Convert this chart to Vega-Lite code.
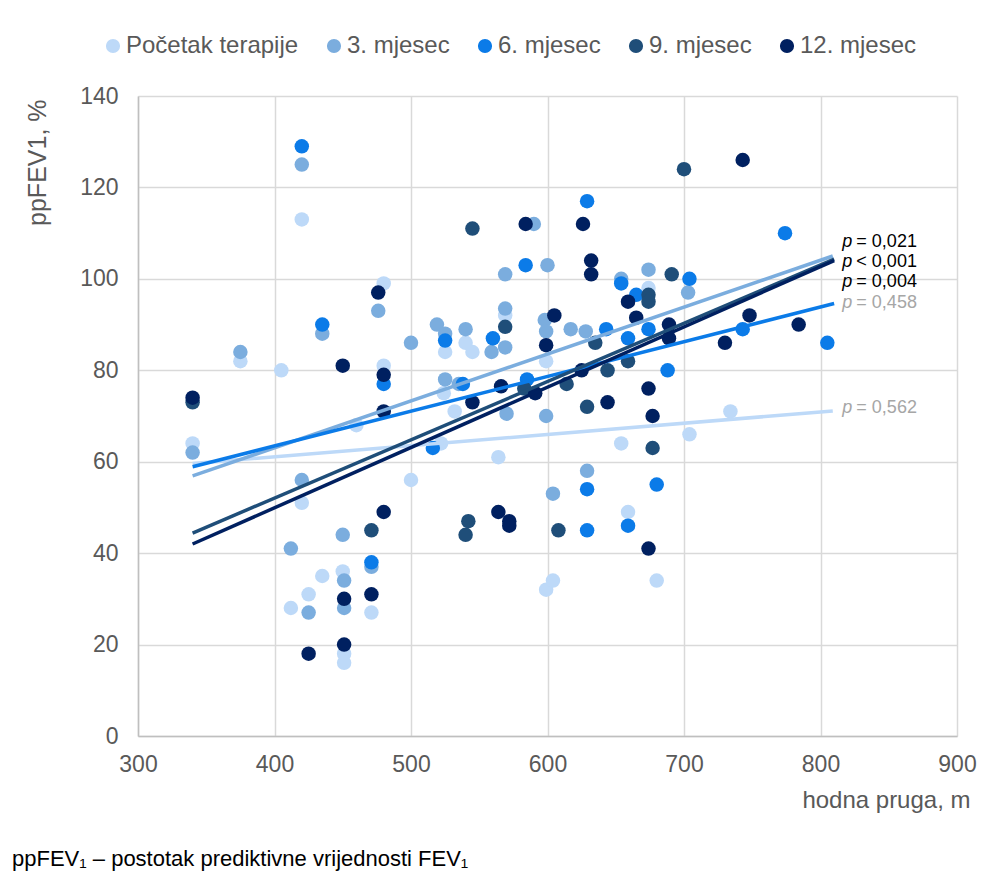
{
  "$schema": "https://vega.github.io/schema/vega-lite/v6.json",
  "width": 819,
  "height": 640,
  "autosize": "none",
  "padding": {"left": 138, "top": 96, "right": 34, "bottom": 137},
  "background": "white",
  "config": {
    "font": "Liberation Sans",
    "view": {"stroke": null},
    "axis": {
      "labelFont": "Liberation Sans",
      "titleFont": "Liberation Sans",
      "labelFontSize": 23,
      "titleFontSize": 24,
      "labelColor": "#595959",
      "titleColor": "#595959",
      "titleFontWeight": "normal",
      "gridColor": "#d9d9d9",
      "gridWidth": 1.5,
      "domainColor": "#bfbfbf",
      "domainWidth": 1.5,
      "ticks": false,
      "labelFlush": false,
      "labelOverlap": false
    },
    "legend": {"labelFont": "Liberation Sans"}
  },
  "title": {
    "text": "ppFEV₁ – postotak prediktivne vrijednosti FEV₁",
    "orient": "bottom",
    "anchor": "start",
    "frame": "group",
    "dx": -126,
    "offset": 37,
    "fontSize": 22,
    "fontWeight": "normal",
    "color": "#000000",
    "font": "Liberation Sans"
  },
  "datasets": {
    "pts": [
      {"s": "Početak terapije", "x": 340, "y": 64}, {"s": "Početak terapije", "x": 375, "y": 82}, {"s": "Početak terapije", "x": 405, "y": 80}, {"s": "Početak terapije", "x": 412, "y": 28}, {"s": "Početak terapije", "x": 420, "y": 113}, {"s": "Početak terapije", "x": 420, "y": 51}, {"s": "Početak terapije", "x": 425, "y": 31}, {"s": "Početak terapije", "x": 435, "y": 35}, {"s": "Početak terapije", "x": 450, "y": 36}, {"s": "Početak terapije", "x": 451, "y": 18}, {"s": "Početak terapije", "x": 451, "y": 16}, {"s": "Početak terapije", "x": 460, "y": 68}, {"s": "Početak terapije", "x": 471, "y": 27}, {"s": "Početak terapije", "x": 480, "y": 99}, {"s": "Početak terapije", "x": 480, "y": 81}, {"s": "Početak terapije", "x": 500, "y": 56}, {"s": "Početak terapije", "x": 522, "y": 64}, {"s": "Početak terapije", "x": 525, "y": 84}, {"s": "Početak terapije", "x": 524, "y": 75}, {"s": "Početak terapije", "x": 532, "y": 71}, {"s": "Početak terapije", "x": 540, "y": 86}, {"s": "Početak terapije", "x": 545, "y": 84}, {"s": "Početak terapije", "x": 564, "y": 61}, {"s": "Početak terapije", "x": 569, "y": 92}, {"s": "Početak terapije", "x": 599, "y": 82}, {"s": "Početak terapije", "x": 599, "y": 32}, {"s": "Početak terapije", "x": 604, "y": 34}, {"s": "Početak terapije", "x": 654, "y": 64}, {"s": "Početak terapije", "x": 659, "y": 49}, {"s": "Početak terapije", "x": 674, "y": 98}, {"s": "Početak terapije", "x": 680, "y": 34}, {"s": "Početak terapije", "x": 704, "y": 66}, {"s": "Početak terapije", "x": 734, "y": 71},
      {"s": "3. mjesec", "x": 340, "y": 62}, {"s": "3. mjesec", "x": 375, "y": 84}, {"s": "3. mjesec", "x": 412, "y": 41}, {"s": "3. mjesec", "x": 420, "y": 125}, {"s": "3. mjesec", "x": 420, "y": 56}, {"s": "3. mjesec", "x": 425, "y": 27}, {"s": "3. mjesec", "x": 435, "y": 88}, {"s": "3. mjesec", "x": 450, "y": 44}, {"s": "3. mjesec", "x": 451, "y": 34}, {"s": "3. mjesec", "x": 451, "y": 28}, {"s": "3. mjesec", "x": 471, "y": 37}, {"s": "3. mjesec", "x": 476, "y": 93}, {"s": "3. mjesec", "x": 500, "y": 86}, {"s": "3. mjesec", "x": 519, "y": 90}, {"s": "3. mjesec", "x": 525, "y": 88}, {"s": "3. mjesec", "x": 525, "y": 78}, {"s": "3. mjesec", "x": 535, "y": 77}, {"s": "3. mjesec", "x": 540, "y": 89}, {"s": "3. mjesec", "x": 559, "y": 84}, {"s": "3. mjesec", "x": 569, "y": 93.5}, {"s": "3. mjesec", "x": 569, "y": 85}, {"s": "3. mjesec", "x": 569, "y": 101}, {"s": "3. mjesec", "x": 570, "y": 70.5}, {"s": "3. mjesec", "x": 590, "y": 112}, {"s": "3. mjesec", "x": 598, "y": 91}, {"s": "3. mjesec", "x": 599, "y": 88.5}, {"s": "3. mjesec", "x": 599, "y": 70}, {"s": "3. mjesec", "x": 600, "y": 103}, {"s": "3. mjesec", "x": 604, "y": 53}, {"s": "3. mjesec", "x": 617, "y": 89}, {"s": "3. mjesec", "x": 628, "y": 88.5}, {"s": "3. mjesec", "x": 629, "y": 58}, {"s": "3. mjesec", "x": 654, "y": 100}, {"s": "3. mjesec", "x": 674, "y": 102}, {"s": "3. mjesec", "x": 703, "y": 97},
      {"s": "6. mjesec", "x": 420, "y": 129}, {"s": "6. mjesec", "x": 435, "y": 90}, {"s": "6. mjesec", "x": 471, "y": 38}, {"s": "6. mjesec", "x": 480, "y": 77}, {"s": "6. mjesec", "x": 516, "y": 63}, {"s": "6. mjesec", "x": 525, "y": 86.5}, {"s": "6. mjesec", "x": 538, "y": 77}, {"s": "6. mjesec", "x": 560, "y": 87}, {"s": "6. mjesec", "x": 584, "y": 103}, {"s": "6. mjesec", "x": 585, "y": 78}, {"s": "6. mjesec", "x": 629, "y": 117}, {"s": "6. mjesec", "x": 629, "y": 54}, {"s": "6. mjesec", "x": 629, "y": 45}, {"s": "6. mjesec", "x": 643, "y": 89}, {"s": "6. mjesec", "x": 654, "y": 99}, {"s": "6. mjesec", "x": 659, "y": 87}, {"s": "6. mjesec", "x": 659, "y": 46}, {"s": "6. mjesec", "x": 665, "y": 96.5}, {"s": "6. mjesec", "x": 674, "y": 89}, {"s": "6. mjesec", "x": 680, "y": 55}, {"s": "6. mjesec", "x": 688, "y": 80}, {"s": "6. mjesec", "x": 704, "y": 100}, {"s": "6. mjesec", "x": 743, "y": 89}, {"s": "6. mjesec", "x": 774, "y": 110}, {"s": "6. mjesec", "x": 805, "y": 86},
      {"s": "9. mjesec", "x": 340, "y": 73}, {"s": "9. mjesec", "x": 471, "y": 45}, {"s": "9. mjesec", "x": 540, "y": 44}, {"s": "9. mjesec", "x": 542, "y": 47}, {"s": "9. mjesec", "x": 545, "y": 111}, {"s": "9. mjesec", "x": 569, "y": 89.5}, {"s": "9. mjesec", "x": 583, "y": 76}, {"s": "9. mjesec", "x": 608, "y": 45}, {"s": "9. mjesec", "x": 614, "y": 77}, {"s": "9. mjesec", "x": 629, "y": 72}, {"s": "9. mjesec", "x": 635, "y": 86}, {"s": "9. mjesec", "x": 644, "y": 80}, {"s": "9. mjesec", "x": 659, "y": 82}, {"s": "9. mjesec", "x": 674, "y": 96.5}, {"s": "9. mjesec", "x": 674, "y": 95}, {"s": "9. mjesec", "x": 677, "y": 63}, {"s": "9. mjesec", "x": 691, "y": 101}, {"s": "9. mjesec", "x": 700, "y": 124},
      {"s": "12. mjesec", "x": 340, "y": 74}, {"s": "12. mjesec", "x": 425, "y": 18}, {"s": "12. mjesec", "x": 450, "y": 81}, {"s": "12. mjesec", "x": 451, "y": 30}, {"s": "12. mjesec", "x": 451, "y": 20}, {"s": "12. mjesec", "x": 471, "y": 31}, {"s": "12. mjesec", "x": 476, "y": 97}, {"s": "12. mjesec", "x": 480, "y": 79}, {"s": "12. mjesec", "x": 480, "y": 71}, {"s": "12. mjesec", "x": 480, "y": 49}, {"s": "12. mjesec", "x": 545, "y": 73}, {"s": "12. mjesec", "x": 564, "y": 49}, {"s": "12. mjesec", "x": 566, "y": 76.5}, {"s": "12. mjesec", "x": 572, "y": 47}, {"s": "12. mjesec", "x": 572, "y": 46}, {"s": "12. mjesec", "x": 584, "y": 112}, {"s": "12. mjesec", "x": 591, "y": 75}, {"s": "12. mjesec", "x": 599, "y": 85.5}, {"s": "12. mjesec", "x": 605, "y": 92}, {"s": "12. mjesec", "x": 625, "y": 80}, {"s": "12. mjesec", "x": 626, "y": 112}, {"s": "12. mjesec", "x": 632, "y": 104}, {"s": "12. mjesec", "x": 632, "y": 101}, {"s": "12. mjesec", "x": 644, "y": 73}, {"s": "12. mjesec", "x": 659, "y": 95}, {"s": "12. mjesec", "x": 665, "y": 91.5}, {"s": "12. mjesec", "x": 674, "y": 76}, {"s": "12. mjesec", "x": 674, "y": 41}, {"s": "12. mjesec", "x": 677, "y": 70}, {"s": "12. mjesec", "x": 689, "y": 90}, {"s": "12. mjesec", "x": 689, "y": 87}, {"s": "12. mjesec", "x": 730, "y": 86}, {"s": "12. mjesec", "x": 743, "y": 126}, {"s": "12. mjesec", "x": 748, "y": 92}, {"s": "12. mjesec", "x": 784, "y": 90}
    ],
    "trend": [
      {"s": "Početak terapije", "x": 340, "y": 59.6}, {"s": "Početak terapije", "x": 809, "y": 71.1},
      {"s": "3. mjesec", "x": 340, "y": 56.9}, {"s": "3. mjesec", "x": 809, "y": 105},
      {"s": "6. mjesec", "x": 340, "y": 58.9}, {"s": "6. mjesec", "x": 810, "y": 94.6},
      {"s": "9. mjesec", "x": 340, "y": 44.4}, {"s": "9. mjesec", "x": 810, "y": 104.3},
      {"s": "12. mjesec", "x": 340, "y": 42}, {"s": "12. mjesec", "x": 810, "y": 104}
    ],
    "lab": [
      {"rest": "= 0,021", "x": 816, "y": 108, "sig": "da"},
      {"rest": "< 0,001", "x": 816, "y": 103.7, "sig": "da"},
      {"rest": "= 0,004", "x": 816, "y": 99.3, "sig": "da"},
      {"rest": "= 0,458", "x": 816, "y": 94.7, "sig": "ne"},
      {"rest": "= 0,562", "x": 816, "y": 71.7, "sig": "ne"}
    ]
  },
  "layer": [
    {
      "data": {"name": "pts"},
      "mark": {"type": "circle", "size": 210, "opacity": 1},
      "encoding": {
        "x": {
          "field": "x", "type": "quantitative",
          "scale": {"domain": [300, 900], "nice": false, "zero": false},
          "axis": {
            "title": "hodna pruga, m",
            "values": [300, 400, 500, 600, 700, 800, 900],
            "grid": true,
            "labelPadding": 17,
            "titleX": 832, "titleY": 64, "titleAlign": "right", "titleBaseline": "middle"
          }
        },
        "y": {
          "field": "y", "type": "quantitative",
          "scale": {"domain": [0, 140], "nice": false},
          "axis": {
            "title": "ppFEV1, %",
            "values": [0, 20, 40, 60, 80, 100, 120, 140],
            "grid": true,
            "labelPadding": 20,
            "titleX": -101, "titleY": 3, "titleAngle": 270, "titleAlign": "right", "titleBaseline": "middle",
            "titleFontSize": 25
          }
        },
        "color": {
          "field": "s", "type": "nominal",
          "scale": {
            "domain": ["Početak terapije", "3. mjesec", "6. mjesec", "9. mjesec", "12. mjesec"],
            "range": ["#bdd9f8", "#7badde", "#0b7be8", "#1f4e79", "#002060"]
          },
          "legend": {
            "title": null,
            "orient": "none",
            "legendX": -37,
            "legendY": -62,
            "direction": "horizontal",
            "symbolType": "circle",
            "symbolSize": 160,
            "symbolOpacity": 1,
            "labelFontSize": 24,
            "labelColor": "#595959",
            "labelOffset": 1,
            "labelLimit": 400,
            "columnPadding": 23
          }
        }
      }
    },
    {
      "data": {"name": "trend"},
      "mark": {"type": "line", "strokeWidth": 3.5},
      "encoding": {
        "x": {"field": "x", "type": "quantitative"},
        "y": {"field": "y", "type": "quantitative"},
        "color": {"field": "s", "type": "nominal", "legend": null}
      }
    },
    {
      "data": {"name": "lab"},
      "mark": {"type": "text", "text": "p", "align": "left", "baseline": "middle", "fontSize": 18, "fontStyle": "italic"},
      "encoding": {
        "x": {"field": "x", "type": "quantitative"},
        "y": {"field": "y", "type": "quantitative"},
        "fill": {"field": "sig", "type": "nominal", "scale": {"domain": ["da", "ne"], "range": ["#000000", "#a6a6a6"]}, "legend": null}
      }
    },
    {
      "data": {"name": "lab"},
      "mark": {"type": "text", "align": "left", "baseline": "middle", "fontSize": 18, "dx": 14},
      "encoding": {
        "x": {"field": "x", "type": "quantitative"},
        "y": {"field": "y", "type": "quantitative"},
        "text": {"field": "rest"},
        "fill": {"field": "sig", "type": "nominal", "legend": null}
      }
    }
  ]
}
